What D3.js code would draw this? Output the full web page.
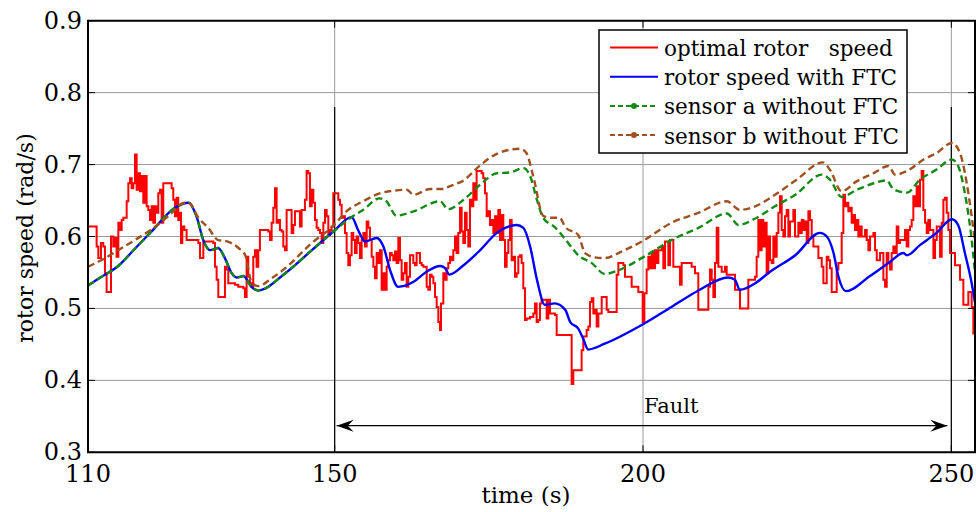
<!DOCTYPE html>
<meta charset="utf-8">
<style>
body {
    margin: 0px;
    background: #fff;
    overflow: hidden;
}
</style>
<body>
<script src="https://d3js.org/d3.v7.min.js"></script>
<script>
var width = 976,
    height = 512;
var serif = "'DejaVu Serif', 'Liberation Serif', serif";

// tick values
var xTicks = [110, 150, 200, 250];
var yTicks = [0.3, 0.4, 0.5, 0.6, 0.7, 0.8, 0.9];

var seriesNames = ["optimal rotor   speed", "rotor speed with FTC", "sensor a without FTC", "sensor b without FTC"];

// optimal rotor speed (step signal), [time, speed]
var optimalSpeed = [
  [110.0,0.614],[111.4,0.586],[111.67,0.570],[112.1,0.591],[112.48,0.586],[112.75,0.549],[113.02,0.523],
  [113.73,0.600],[114.1,0.586],[114.37,0.598],[114.64,0.572],[114.92,0.619],[115.19,0.609],[115.46,0.623],
  [115.73,0.626],[116.27,0.649],[116.54,0.674],[116.81,0.681],[117.08,0.667],[117.35,0.674],[117.62,0.714],
  [117.89,0.665],[118.16,0.688],[118.43,0.663],[118.7,0.684],[118.97,0.647],[119.24,0.684],[119.51,0.642],
  [119.78,0.637],[120.05,0.623],[120.32,0.642],[120.59,0.619],[120.86,0.642],[121.13,0.633],[121.4,0.660],
  [121.67,0.665],[121.94,0.619],[122.21,0.674],[123.56,0.667],[123.83,0.651],[124.1,0.628],[124.37,0.654],
  [124.64,0.623],[124.92,0.633],[125.08,0.591],[125.29,0.614],[125.62,0.609],[125.99,0.595],[127.89,0.591],
  [128.16,0.570],[128.7,0.593],[130.32,0.591],[130.59,0.558],[130.86,0.540],[131.13,0.516],[132.21,0.558],
  [132.48,0.554],[132.75,0.535],[133.83,0.533],[134.37,0.530],[135.18,0.528],[135.45,0.516],[135.72,0.572],
  [135.99,0.544],[136.26,0.535],[136.53,0.530],[136.8,0.572],[137.07,0.581],[137.34,0.558],[137.61,0.581],
  [137.88,0.609],[139.24,0.607],[139.51,0.595],[139.78,0.619],[140.05,0.640],[140.32,0.667],[140.59,0.619],
  [140.86,0.623],[141.13,0.609],[141.4,0.607],[141.67,0.586],[141.94,0.581],[142.21,0.637],[143.02,0.605],
  [143.29,0.616],[143.56,0.635],[144.37,0.614],[144.64,0.637],[145.18,0.651],[145.45,0.691],[145.72,0.688],
  [145.99,0.642],[146.27,0.665],[146.54,0.647],[146.81,0.623],[147.08,0.612],[147.35,0.609],[147.62,0.605],
  [147.89,0.591],[148.16,0.619],[148.43,0.637],[148.7,0.628],[148.97,0.602],[149.24,0.609],[149.51,0.614],
  [149.78,0.660],[150.59,0.651],[150.86,0.644],[151.13,0.626],[151.4,0.628],[151.67,0.605],[151.94,0.577],
  [152.21,0.560],[152.48,0.574],[152.75,0.605],[153.02,0.595],[153.29,0.577],[153.56,0.600],[153.83,0.591],
  [154.1,0.570],[154.38,0.595],[154.65,0.605],[154.92,0.586],[155.19,0.621],[155.46,0.612],[155.73,0.595],
  [156.0,0.572],[156.27,0.558],[156.54,0.542],[156.81,0.577],[157.08,0.563],[157.35,0.581],[157.62,0.526],
  [157.89,0.549],[158.16,0.526],[158.43,0.558],[158.7,0.567],[158.97,0.577],[159.24,0.574],[159.51,0.567],
  [159.78,0.579],[160.05,0.563],[160.32,0.598],[160.59,0.567],[160.86,0.540],[161.13,0.549],[161.4,0.563],
  [161.67,0.530],[161.94,0.544],[162.21,0.574],[162.75,0.563],[163.02,0.560],[163.29,0.577],[163.83,0.563],
  [164.1,0.560],[164.38,0.558],[164.92,0.530],[165.19,0.526],[165.46,0.547],[165.73,0.544],[166.0,0.535],
  [166.27,0.516],[166.54,0.502],[166.81,0.481],[167.08,0.470],[167.24,0.507],[167.62,0.549],[167.89,0.540],
  [168.16,0.556],[168.43,0.563],[168.7,0.572],[168.97,0.567],[169.24,0.581],[169.51,0.600],[169.78,0.577],
  [170.05,0.605],[170.32,0.640],[170.59,0.607],[170.86,0.591],[171.13,0.633],[171.4,0.609],[171.67,0.586],
  [171.94,0.651],[172.21,0.642],[172.48,0.674],[172.75,0.651],[173.02,0.691],[173.83,0.688],[174.1,0.681],
  [174.38,0.660],[174.65,0.628],[174.92,0.635],[175.19,0.616],[175.46,0.623],[175.73,0.605],[176.0,0.628],
  [176.27,0.605],[176.54,0.637],[176.81,0.595],[177.08,0.630],[177.35,0.595],[177.62,0.558],[177.89,0.577],
  [178.16,0.595],[178.43,0.623],[178.7,0.567],[178.97,0.572],[179.24,0.544],[179.51,0.549],[179.78,0.572],
  [180.05,0.574],[180.32,0.563],[180.59,0.528],[180.86,0.484],[181.13,0.486],[181.67,0.488],[182.21,0.493],
  [182.48,0.507],[182.75,0.481],[183.02,0.484],[183.29,0.507],[183.56,0.512],[184.1,0.512],[184.38,0.486],
  [184.65,0.512],[184.92,0.493],[185.73,0.491],[186.0,0.463],[188.43,0.395],[188.7,0.414],[190.05,0.442],
  [190.32,0.461],[190.86,0.470],[191.14,0.475],[191.41,0.509],[191.68,0.514],[191.95,0.493],[192.22,0.498],
  [192.49,0.475],[192.76,0.493],[193.3,0.516],[194.11,0.498],[194.38,0.495],[195.73,0.547],[196.0,0.563],
  [196.81,0.560],[197.08,0.544],[198.16,0.530],[199.24,0.523],[199.95,0.481],[200.22,0.521],[200.59,0.554],
  [200.86,0.572],[201.14,0.556],[201.41,0.577],[201.68,0.556],[201.95,0.581],[202.22,0.563],[202.49,0.581],
  [203.03,0.586],[203.3,0.556],[203.57,0.593],[204.11,0.560],[204.38,0.595],[204.92,0.558],[206.0,0.533],
  [206.27,0.563],[207.89,0.558],[208.43,0.549],[208.97,0.498],[210.6,0.530],[210.86,0.554],[211.14,0.540],
  [211.41,0.516],[211.68,0.563],[211.95,0.612],[212.22,0.558],[212.76,0.551],[213.3,0.558],[213.57,0.547],
  [214.92,0.526],[215.73,0.500],[217.08,0.540],[218.16,0.544],[218.43,0.572],[218.7,0.623],[218.97,0.581],
  [219.24,0.623],[219.51,0.586],[219.78,0.619],[220.05,0.549],[220.32,0.600],[220.6,0.567],[220.87,0.563],
  [221.14,0.600],[221.41,0.572],[221.68,0.605],[221.95,0.633],[222.22,0.656],[222.49,0.609],[222.76,0.600],
  [223.03,0.628],[223.3,0.637],[223.57,0.600],[223.84,0.621],[224.38,0.637],[224.65,0.600],[225.19,0.619],
  [225.46,0.605],[225.74,0.623],[226.01,0.609],[226.28,0.621],[226.55,0.591],[226.82,0.635],[227.09,0.623],
  [227.36,0.600],[227.63,0.586],[228.44,0.570],[228.98,0.558],[229.25,0.535],[229.79,0.572],[230.06,0.567],
  [230.33,0.556],[230.6,0.523],[231.41,0.554],[231.68,0.563],[232.22,0.605],[232.49,0.658],[232.76,0.642],
  [233.03,0.647],[233.3,0.635],[233.57,0.640],[233.84,0.619],[234.11,0.630],[234.38,0.609],[234.65,0.623],
  [234.92,0.600],[235.19,0.614],[235.46,0.600],[236.01,0.609],[236.28,0.595],[236.55,0.581],[236.82,0.600],
  [237.36,0.605],[237.63,0.581],[237.9,0.567],[238.44,0.577],[238.98,0.540],[239.25,0.530],[239.52,0.577],
  [239.79,0.563],[240.06,0.554],[240.33,0.577],[240.6,0.586],[240.87,0.577],[241.14,0.614],[241.41,0.591],
  [241.68,0.595],[242.49,0.609],[242.76,0.586],[243.03,0.609],[243.3,0.614],[243.57,0.623],[243.84,0.656],
  [244.11,0.642],[244.38,0.670],[244.65,0.642],[244.92,0.679],[245.19,0.691],[245.46,0.637],[245.74,0.619],
  [246.01,0.605],[246.28,0.623],[246.55,0.609],[247.09,0.570],[247.36,0.595],[247.63,0.614],[248.17,0.572],
  [248.44,0.619],[248.71,0.651],[248.98,0.654],[249.25,0.633],[249.52,0.609],[249.79,0.577],[250.6,0.560],
  [251.41,0.540],[251.95,0.505],[252.76,0.523],[253.3,0.502],[253.57,0.465],[254.0,0.465]
];

// before the fault both sensors read the same speed as the FTC loop
var preFault = [
  [110,0.532],[112,0.543],[114.9,0.559],[117.6,0.583],[120.3,0.607],[124.1,0.640],[126.3,0.647],
  [127.6,0.628],[128.7,0.595],[129.8,0.581],[131.1,0.584],[132.2,0.570],[133.3,0.549],[134.1,0.543],
  [135.2,0.545],[136.5,0.530],[137.6,0.525],[142.0,0.549],[146.3,0.581],[149.8,0.607],[152.75,0.627]
];

var ftcPost = [
  [153.8,0.609],[154.9,0.593],[156.8,0.598],[157.9,0.586],[159.0,0.553],[160.3,0.530],[162.8,0.537],
  [164.9,0.551],[167.1,0.559],[167.9,0.556],[168.6,0.547],[170.9,0.560],[173.6,0.581],[176.3,0.605],
  [179.5,0.616],[180.6,0.612],[181.7,0.586],[182.8,0.540],[184.1,0.505],[185.7,0.507],[187.4,0.498],
  [188.2,0.481],[189.5,0.472],[190.3,0.458],[191.1,0.443],[193.8,0.451],[200,0.478],[204.6,0.502],
  [209,0.525],[213.8,0.543],[214.9,0.540],[215.7,0.526],[218.2,0.535],[220.6,0.551],[224.7,0.574],
  [228.7,0.605],[229.8,0.600],[230.9,0.577],[231.7,0.544],[232.9,0.524],[236.8,0.545],[240.1,0.565],
  [242.2,0.577],[242.8,0.574],[244.9,0.588],[247.6,0.605],[250.1,0.624],[251.1,0.616],[252.2,0.577],
  [253.3,0.535],[254,0.500]
];

var sensorAPost = [
  [154.6,0.637],[157.3,0.653],[158.4,0.649],[160.0,0.629],[162.8,0.635],[167.1,0.649],[168.4,0.638],
  [170.9,0.651],[173.6,0.672],[176.3,0.688],[178.4,0.689],[180.6,0.695],[181.7,0.684],[182.8,0.651],
  [183.8,0.626],[185.7,0.613],[187.4,0.596],[189.5,0.574],[191.7,0.563],[193.8,0.548],[196.0,0.553],
  [200,0.571],[204.6,0.595],[209,0.612],[213.6,0.632],[215.5,0.616],[218.2,0.625],[221.4,0.642],
  [224.7,0.658],[229.0,0.686],[230.3,0.679],[232.2,0.655],[234.7,0.665],[237.4,0.674],[239.5,0.678],
  [240.6,0.666],[242.8,0.661],[244.9,0.679],[247.6,0.693],[250.1,0.707],[251.1,0.698],[252.2,0.660],
  [253.3,0.595],[254,0.535]
];

var sensorB = [
  [110,0.558],[112.8,0.570],[114.9,0.581],[117.6,0.595],[120.3,0.610],[123.0,0.628],[125.7,0.647],
  [126.3,0.647],[127.9,0.626],[129.5,0.612],[131.1,0.595],[132.2,0.594],[134.4,0.584],[135.5,0.574],
  [136.5,0.537],[137.6,0.531],[139.8,0.542],[142.0,0.556],[146.3,0.591],[149.8,0.615],[151.9,0.635],
  [154.6,0.649],[157.3,0.660],[159.0,0.663],[161.7,0.665],[162.8,0.658],[165.5,0.666],[167.6,0.666],
  [168.7,0.670],[170.9,0.678],[173.6,0.699],[176.3,0.715],[180.1,0.722],[181.1,0.716],[182.2,0.684],
  [183.8,0.629],[184.9,0.626],[186.5,0.626],[187.4,0.613],[189.5,0.602],[190.6,0.577],[192.2,0.571],
  [193.8,0.570],[196.5,0.579],[200,0.594],[204.6,0.619],[209,0.633],[213.6,0.649],[215.7,0.637],
  [218.2,0.642],[221.4,0.658],[224.9,0.679],[229.2,0.703],[230.3,0.693],[232.2,0.663],[234.7,0.677],
  [237.4,0.688],[239.8,0.698],[240.9,0.686],[242.8,0.691],[245.5,0.707],[247.6,0.716],[250.1,0.730],
  [251.4,0.716],[252.5,0.674],[253.3,0.628],[254,0.581]
];

var faultStart = 150, faultEnd = 250, faultLineTop = 0.78, faultArrowY = 0.337;

var x = d3.scaleLinear().domain([110, 254]).range([88, 976]);
var y = d3.scaleLinear().domain([0.3, 0.9]).range([452.3, 20.7]);
var x0 = x.range()[0], x1 = 975, y0 = y.range()[0], y1 = y.range()[1];

var svg = d3.select("body").append("svg")
    .attr("width", width)
    .attr("height", height)
    .attr("font-family", serif)
    .style("font-family", serif);

svg.append("defs").append("clipPath").attr("id", "plot")
  .append("rect").attr("x", x0).attr("y", y1).attr("width", x1 - x0).attr("height", y0 - y1);

// grid
var grid = svg.append("g").attr("stroke", "#9a9a9a").attr("stroke-width", 1);
grid.selectAll(".gy").data(yTicks.slice(1, -1)).enter().append("line")
    .attr("x1", x0).attr("x2", x1)
    .attr("y1", d => y(d)).attr("y2", d => y(d));
grid.selectAll(".gx").data(xTicks.slice(1)).enter().append("line")
    .attr("x1", d => x(d)).attr("x2", d => x(d))
    .attr("y1", y1).attr("y2", y0);

// fault marker lines
svg.append("g").selectAll("line").data([faultStart, faultEnd]).enter().append("line")
    .attr("x1", d => x(d)).attr("x2", d => x(d))
    .attr("y1", y(faultLineTop)).attr("y2", y0)
    .attr("stroke", "#000").attr("stroke-width", 1.2);

var smooth = d3.line().x(d => x(d[0])).y(d => y(d[1])).curve(d3.curveMonotoneX);
var step = d3.line().x(d => x(d[0])).y(d => y(d[1])).curve(d3.curveStepAfter);

var plot = svg.append("g").attr("clip-path", "url(#plot)").attr("fill", "none");

plot.append("path").attr("d", step(optimalSpeed))
    .attr("stroke", "#ff0000").attr("stroke-width", 2);
plot.append("path").attr("d", smooth(preFault.concat(ftcPost)))
    .attr("stroke", "#0000ff").attr("stroke-width", 2.4);
plot.append("path").attr("d", smooth(preFault.concat(sensorAPost)))
    .attr("stroke", "#138a13").attr("stroke-width", 2.4).attr("stroke-dasharray", "7,4");
plot.append("path").attr("d", smooth(sensorB))
    .attr("stroke", "#a0501e").attr("stroke-width", 2.4).attr("stroke-dasharray", "7,4");

// fault arrow
var ay = y(faultArrowY), xa = x(faultStart) + 2, xb = x(faultEnd) - 4;
svg.append("line").attr("x1", xa).attr("x2", xb).attr("y1", ay).attr("y2", ay)
    .attr("stroke", "#000").attr("stroke-width", 1.2);
svg.append("path")
    .attr("d", `M${xa},${ay}L${xa + 17},${ay - 6}L${xa + 11},${ay}L${xa + 17},${ay + 6}Z`)
    .attr("fill", "#000");
svg.append("path")
    .attr("d", `M${xb},${ay}L${xb - 17},${ay - 6}L${xb - 11},${ay}L${xb - 17},${ay + 6}Z`)
    .attr("fill", "#000");
svg.append("text").attr("x", (x(faultStart) + x(faultEnd)) / 2 + 1).attr("y", ay - 13)
    .attr("font-size", 21).text("Fault");

// frame and ticks
var frame = svg.append("g").attr("stroke", "#000").attr("fill", "none");
frame.append("path").attr("d", `M${x0},${y1}H${x1}V${y0}H${x0}Z`).attr("stroke-width", 2);
frame.selectAll(".tx").data(xTicks).enter().append("path")
    .attr("d", d => `M${x(d)},${y0}v-7M${x(d)},${y1}v7`).attr("stroke-width", 1);
frame.selectAll(".ty").data(yTicks).enter().append("path")
    .attr("d", d => `M${x0},${y(d)}h7M${x1},${y(d)}h-7`).attr("stroke-width", 1);

svg.append("g").selectAll("text").data(yTicks).enter().append("text")
    .attr("x", x0 - 6).attr("y", d => y(d) + 8)
    .attr("text-anchor", "end").attr("font-size", 24)
    .text(d => d3.format(".1f")(d));
svg.append("g").selectAll("text").data(xTicks).enter().append("text")
    .attr("x", d => x(d)).attr("y", y0 + 30)
    .attr("text-anchor", "middle").attr("font-size", 24)
    .text(d => d);

svg.append("text").attr("x", 526).attr("y", 503)
    .attr("text-anchor", "middle").attr("font-size", 23).text("time (s)");
svg.append("text").attr("transform", "translate(33,238) rotate(-90)")
    .attr("text-anchor", "middle").attr("font-size", 22).text("rotor speed (rad/s)");

// legend
var legendColors = ["#ff0000", "#0000ff", "#138a13", "#a0501e"];
var legendDash = [null, null, "5,3", "5,3"];
var lg = svg.append("g").attr("transform", "translate(599,30)");
lg.append("rect").attr("width", 308).attr("height", 123)
    .attr("fill", "#fff").attr("stroke", "#000").attr("stroke-width", 1.5);
var rows = lg.selectAll("g").data(seriesNames).enter().append("g")
    .attr("transform", (d, i) => `translate(0,${17.5 + i * 29.2})`);
rows.append("line").attr("x1", 11).attr("x2", 59)
    .attr("stroke", (d, i) => legendColors[i]).attr("stroke-width", 2)
    .attr("stroke-dasharray", (d, i) => legendDash[i]);
rows.filter((d, i) => i > 1).append("circle").attr("cx", 35).attr("r", 3)
    .attr("fill", (d, i) => legendColors[i + 2]);
rows.append("text").attr("x", 65).attr("y", 8.5).attr("font-size", 21.5)
    .attr("xml:space", "preserve").style("white-space", "pre").text(d => d);
</script>
</body>
</html>
